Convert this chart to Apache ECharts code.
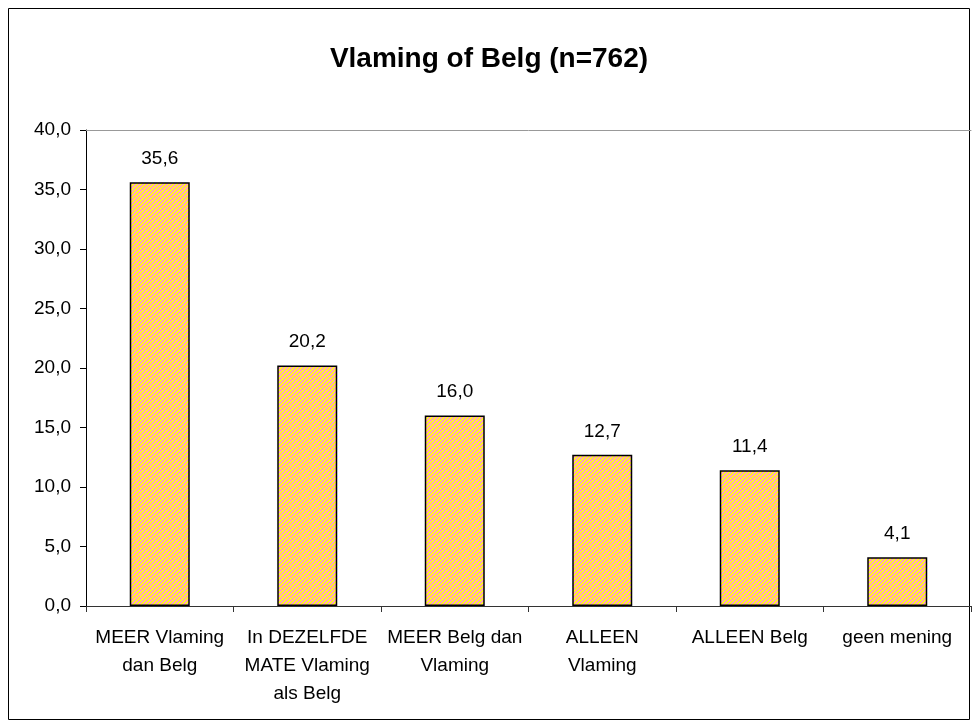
<!DOCTYPE html>
<html>
<head>
<meta charset="utf-8">
<title>Vlaming of Belg</title>
<script src="https://cdn.jsdelivr.net/npm/echarts@6/dist/echarts.min.js"></script>
<style>
  html, body { margin: 0; padding: 0; background: #fff; }
  #chart { width: 978px; height: 727px; }
</style>
</head>
<body>
<div id="chart"></div>
<script>
var categories = ['MEER Vlaming\ndan Belg', 'In DEZELFDE\nMATE Vlaming\nals Belg', 'MEER Belg dan\nVlaming', 'ALLEEN\nVlaming', 'ALLEEN Belg', 'geen mening'];
var values = [35.6, 20.2, 16.0, 12.7, 11.4, 4.1];

// geel/roze diagonaal patroon zoals in Excel
function makePattern() {
  var c = document.createElement('canvas');
  c.width = 4; c.height = 4;
  var ctx = c.getContext('2d');
  for (var x = 0; x < 4; x++) {
    for (var y = 0; y < 4; y++) {
      ctx.fillStyle = ((x + y) % 4 < 2) ? '#FFFF1A' : '#FF99CC';
      ctx.fillRect(x, y, 1, 1);
    }
  }
  return c;
}

var fmt = function (v) { return Number(v).toFixed(1).replace('.', ','); };

var myChart = echarts.init(document.getElementById('chart'));
var option = {
  animation: false,
  textStyle: { fontFamily: 'Liberation Sans, Arial, sans-serif' },
  title: {
    text: 'Vlaming of Belg (n=762)',
    left: 'center',
    top: 40,
    textStyle: { fontSize: 28, fontWeight: 'bold', color: '#000' }
  },
  graphic: [{
    type: 'rect',
    shape: { x: 8.5, y: 8.5, width: 961, height: 711 },
    style: { fill: 'none', stroke: '#000', lineWidth: 1 }
  }],
  grid: { left: 86, right: 7, top: 130, bottom: 121 },
  xAxis: [{
    type: 'category',
    data: categories,
    axisLine: { lineStyle: { color: '#333', width: 1 } },
    axisTick: { show: true, length: 6, lineStyle: { color: '#333' } },
    axisLabel: { color: '#000', fontSize: 19, lineHeight: 28, margin: 18, interval: 0 }
  }, {
    type: 'category',
    position: 'top',
    data: categories,
    axisLine: { show: true, lineStyle: { color: '#999' } },
    axisTick: { show: false },
    axisLabel: { show: false }
  }],
  yAxis: {
    type: 'value',
    min: 0,
    max: 40,
    interval: 5,
    axisLine: { show: true, lineStyle: { color: '#000' } },
    axisTick: { show: true, length: 6, lineStyle: { color: '#000' } },
    splitLine: { show: false },
    axisLabel: { color: '#000', fontSize: 19, margin: 15, formatter: fmt }
  },
  series: [{
    type: 'bar',
    data: values,
    barWidth: 60,
    itemStyle: {
      color: { image: makePattern(), repeat: 'repeat' },
      borderColor: '#000',
      borderWidth: 1.5
    },
    label: {
      show: true,
      position: 'top',
      distance: 14,
      color: '#000',
      fontSize: 19,
      formatter: function (p) { return fmt(p.value); }
    }
  }]
};
myChart.setOption(option);
</script>
</body>
</html>
